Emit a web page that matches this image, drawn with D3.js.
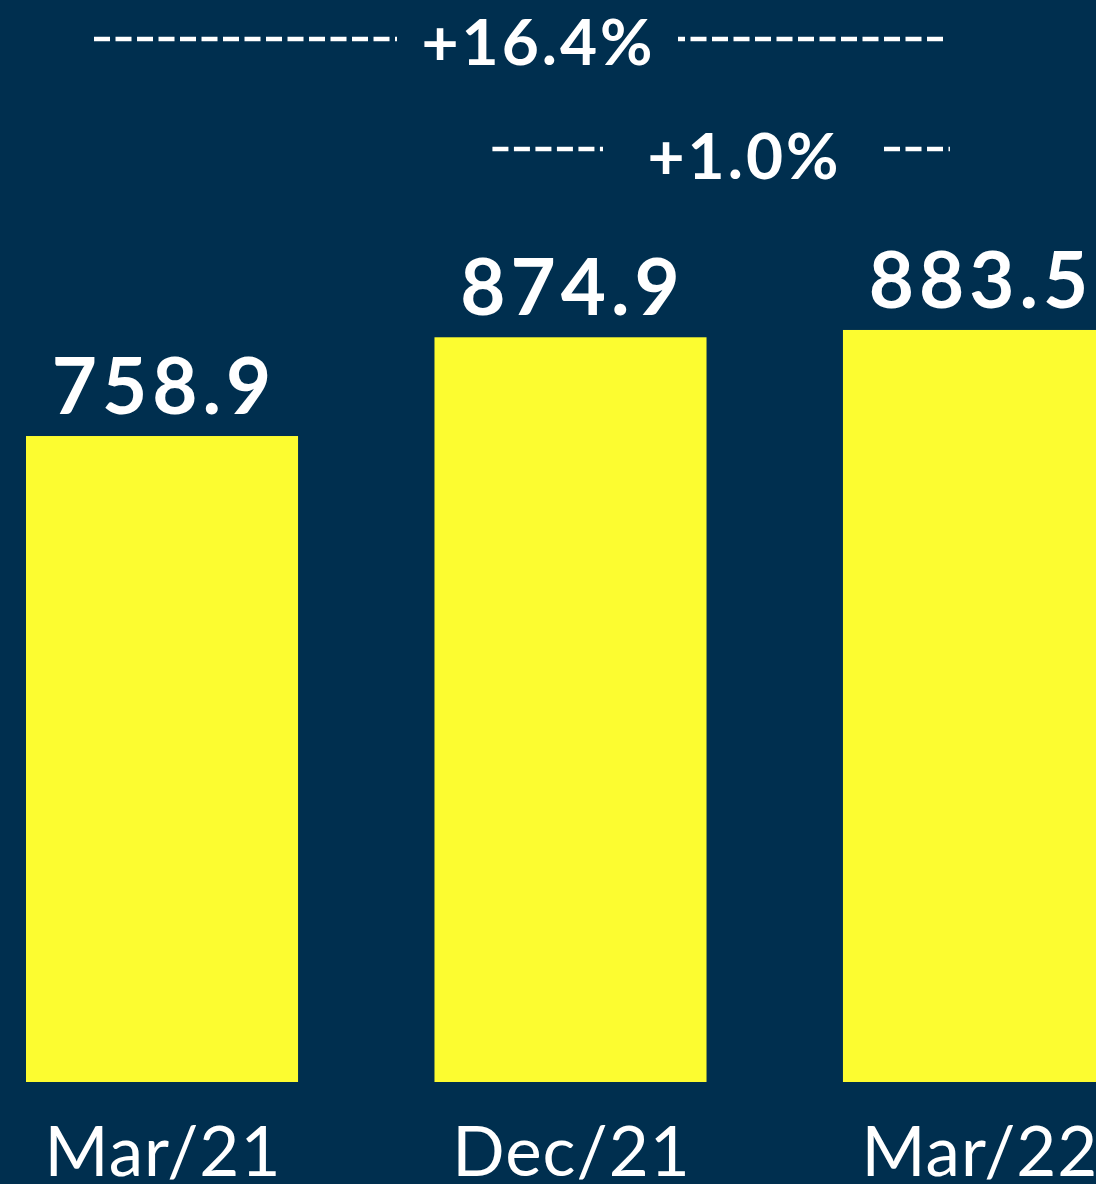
<!DOCTYPE html>
<html>
<head>
<meta charset="utf-8">
<script src="https://cdn.jsdelivr.net/npm/d3@7"></script>
<style>
  html, body { margin: 0; padding: 0; background: #002f4f; }
  svg { display: block; }
</style>
</head>
<body>
<div id="chart"></div>
<script>
// Adatok
const categories = ['Mar/21', 'Dec/21', 'Mar/22'];
const values = [758.9, 874.9, 883.5];
const valueLabels = ['758.9', '874.9', '883.5'];
// Változás-jelölések: honnan, hová, felirat
const changeFrom = ['Mar/21', 'Dec/21'];
const changeTo = ['Mar/22', 'Mar/22'];
const changeLabels = ['+16.4%', '+1.0%'];

const width = 1096, height = 1184;
const baseline = 1082;
const bg = '#002f4f', barColor = '#fcfc30';

const svg = d3.select('#chart').append('svg')
  .attr('width', width)
  .attr('height', height)
  .style('background', bg);

// Skálák
const x = d3.scaleBand()
  .domain(categories)
  .range([26, 1115])
  .paddingInner(0.334)
  .paddingOuter(0);

const y = d3.scaleLinear()
  .domain([0, 1000])
  .range([baseline, baseline - 851.2]);

// Oszlopok
svg.selectAll('rect.bar')
  .data(values)
  .join('rect')
  .attr('class', 'bar')
  .attr('x', (d, i) => x(categories[i]))
  .attr('y', d => y(d))
  .attr('width', x.bandwidth())
  .attr('height', d => y(0) - y(d))
  .attr('fill', barColor);

// Értékcímkék
svg.selectAll('text.value')
  .data(values)
  .join('text')
  .attr('class', 'value')
  .attr('x', (d, i) => x(categories[i]) + x.bandwidth() / 2 + 2)
  .attr('y', d => y(d) - 22)
  .attr('text-anchor', 'middle')
  .attr('font-family', 'Lato, sans-serif')
  .attr('font-weight', 700)
  .attr('font-size', 78)
  .attr('letter-spacing', 5)
  .attr('fill', '#fff')
  .text((d, i) => valueLabels[i]);

// Kategória feliratok
svg.selectAll('text.cat')
  .data(categories)
  .join('text')
  .attr('class', 'cat')
  .attr('x', d => x(d) + x.bandwidth() / 2 + 1)
  .attr('y', 1176)
  .attr('text-anchor', 'middle')
  .attr('font-family', 'Lato, sans-serif')
  .attr('font-size', 69)
  .attr('letter-spacing', 1)
  .attr('fill', '#fff')
  .text(d => d);

// Változás-jelölések szaggatott vonallal
const bw = x.bandwidth();
const rightEnd = x(changeTo[0]) + bw * 0.386;
const rows = [
  { lineY: 39, textY: 65, textX: 537,
    segs: [[x(changeFrom[0]) + bw * 0.25, 397, 0], [678, rightEnd, 9]] },
  { lineY: 149, textY: 179, textX: 743,
    segs: [[x(changeFrom[1]) + bw * 0.213, 603, 0], [884, rightEnd + 2, 0]] }
];

rows.forEach((r, i) => {
  const g = svg.append('g');
  r.segs.forEach(([a, b, off]) => {
    g.append('line')
      .attr('x1', a).attr('x2', b)
      .attr('y1', r.lineY).attr('y2', r.lineY)
      .attr('stroke', '#fff')
      .attr('stroke-width', 4.5)
      .attr('stroke-dasharray', '16,5.5')
      .attr('stroke-dashoffset', off);
  });
  g.append('text')
    .attr('x', r.textX + 1.5)
    .attr('y', r.textY)
    .attr('text-anchor', 'middle')
    .attr('font-family', 'Lato, sans-serif')
    .attr('font-weight', 700)
    .attr('font-size', 64)
    .attr('letter-spacing', 3)
    .attr('fill', '#fff')
    .text(changeLabels[i]);
});
</script>
</body>
</html>
